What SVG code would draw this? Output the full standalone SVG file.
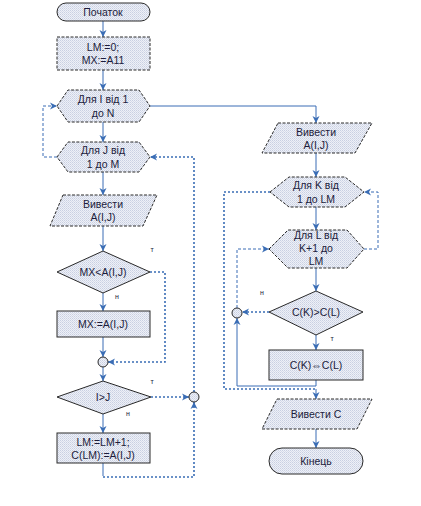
<svg xmlns="http://www.w3.org/2000/svg" width="421" height="506" viewBox="0 0 421 506">
<defs>
<pattern id="hatch" width="2" height="2" patternUnits="userSpaceOnUse">
<rect width="2" height="2" fill="#eef0f7"/>
<rect width="1" height="1" fill="#c9d0e2"/>
<rect x="1" y="1" width="1" height="1" fill="#d6dcea"/>
</pattern>
<marker id="arr" markerWidth="8" markerHeight="8" refX="7" refY="4" orient="auto" markerUnits="userSpaceOnUse">
<path d="M0,0.5 L7,4 L0,7.5 L2,4 z" fill="#3a6db5"/>
</marker>
</defs>
<style>
.n{fill:url(#hatch);stroke:#2a2a2a;stroke-width:1}
.d{stroke-dasharray:3,1.5}
.t{font-family:"Liberation Sans",Arial,sans-serif;font-size:10.5px;fill:#1c1c3c;text-anchor:middle}
.s{font-family:"Liberation Sans",Arial,sans-serif;font-size:7px;fill:#1c1c3c;text-anchor:middle}
.c{fill:none;stroke:#3a6db5;stroke-width:1}
.dot{fill:none;stroke:#3a6db5;stroke-width:1.6;stroke-dasharray:2,2}
.thin{fill:none;stroke:#3a6db5;stroke-width:1;stroke-dasharray:3,2}
</style>
<rect width="421" height="506" fill="#ffffff"/>
<g id="connectors">
<path class="c" d="M103,21 V37" marker-end="url(#arr)"/>
<path class="c" d="M103,70 V90" marker-end="url(#arr)"/>
<path class="c" d="M103,122 V142" marker-end="url(#arr)"/>
<path class="c" d="M103,172 V195" marker-end="url(#arr)"/>
<path class="c" d="M103,226 V251" marker-end="url(#arr)"/>
<path class="c" d="M103,293 V311" marker-end="url(#arr)"/>
<path class="c" d="M103,337 V357" marker-end="url(#arr)"/>
<path class="c" d="M103,367 V381" marker-end="url(#arr)"/>
<path class="c" d="M103,414 V433" marker-end="url(#arr)"/>
<path class="c" d="M150,106 H316 V123" marker-end="url(#arr)"/>
<path class="c" d="M316,153 V177" marker-end="url(#arr)"/>
<path class="c" d="M316,207 V230" marker-end="url(#arr)"/>
<path class="c" d="M316,268 V291" marker-end="url(#arr)"/>
<path class="c" d="M316,335 V350" marker-end="url(#arr)"/>
<path class="c" d="M316,380 V386 H237 V318" marker-end="url(#arr)"/>
<path class="c" d="M316,389 V399" marker-end="url(#arr)"/>
<path class="c" d="M316,429 V448" marker-end="url(#arr)"/>
<path class="thin" d="M57,157 H43 V106 H57" marker-end="url(#arr)"/>
<path class="dot" d="M150,272 H165 V362 H108" marker-end="url(#arr)"/>
<path class="dot" d="M151,397 H189" marker-end="url(#arr)"/>
<path class="c" d="M103,463 V476"/>
<path class="dot" d="M103,477 H194 V402" marker-end="url(#arr)"/>
<path class="dot" d="M194,392 V157 H150" marker-end="url(#arr)"/>
<path class="thin" d="M364,249 H378 V192 H364" marker-end="url(#arr)"/>
<path class="dot" d="M270,192 H224 V389 H316"/>
<path class="thin" d="M237,308 V249 H269" marker-end="url(#arr)"/>
<path class="dot" d="M269,312 H242" marker-end="url(#arr)"/>
</g>
<g id="start"><rect class="n" x="57" y="3" width="93" height="18" rx="9"/><text class="t" x="103" y="16">Початок</text></g>
<g id="init"><rect class="n d" x="57" y="37" width="93" height="33"/><text class="t" x="103" y="51">LM:=0;</text><text class="t" x="103" y="64">MX:=A11</text></g>
<g id="loopI"><polygon class="n d" points="57,106 68,90 139,90 150,106 139,122 68,122"/><text class="t" x="103" y="103">Для I від 1</text><text class="t" x="103" y="117">до N</text></g>
<g id="loopJ"><polygon class="n d" points="57,157 68,142 139,142 150,157 139,172 68,172"/><text class="t" x="103" y="154">Для J від</text><text class="t" x="103" y="168">1 до M</text></g>
<g id="out1"><polygon class="n d" points="63,195 157,195 143,226 50,226"/><text class="t" x="103" y="208">Вивести</text><text class="t" x="103" y="221">A(I,J)</text></g>
<g id="cond1"><polygon class="n" points="103,251 150,272 103,293 57,272"/><text class="t" x="103" y="276">MX&lt;A(I,J)</text></g>
<g id="assign1"><rect class="n" x="57" y="311" width="93" height="26"/><text class="t" x="103" y="328">MX:=A(I,J)</text></g>
<g id="join1"><circle class="n" cx="103" cy="362" r="5"/></g>
<g id="cond2"><polygon class="n" points="103,381 151,397 103,414 57,397"/><text class="t" x="103" y="401">I&gt;J</text></g>
<g id="assign2"><rect class="n" x="57" y="433" width="93" height="30"/><text class="t" x="103" y="446">LM:=LM+1;</text><text class="t" x="103" y="459">C(LM):=A(I,J)</text></g>
<g id="join2"><circle class="n" cx="194" cy="397" r="5"/></g>
<g id="out2"><polygon class="n d" points="278,123 372,123 355,153 262,153"/><text class="t" x="316" y="136">Вивести</text><text class="t" x="316" y="149">A(I,J)</text></g>
<g id="loopK"><polygon class="n d" points="270,192 289,177 345,177 364,192 345,207 289,207"/><text class="t" x="316" y="189">Для K від</text><text class="t" x="316" y="203">1 до LM</text></g>
<g id="loopL"><polygon class="n d" points="269,249 288,230 347,230 364,249 347,268 288,268"/><text class="t" x="316" y="239">Для L від</text><text class="t" x="316" y="252">K+1 до</text><text class="t" x="316" y="265">LM</text></g>
<g id="cond3"><polygon class="n" points="316,291 363,312 316,335 269,312"/><text class="t" x="316" y="316">C(K)&gt;C(L)</text></g>
<g id="swap"><rect class="n" x="269" y="350" width="94" height="30"/><text class="t" x="316" y="369">C(K)⇔C(L)</text></g>
<g id="join3"><circle class="n" cx="237" cy="313" r="5"/></g>
<g id="out3"><polygon class="n d" points="277,399 372,399 357,429 262,429"/><text class="t" x="316" y="418">Вивести C</text></g>
<g id="end"><rect class="n" x="269" y="448" width="94" height="26" rx="13"/><text class="t" x="316" y="465">Кінець</text></g>
<g id="labels">
<text class="s" x="152" y="252">т</text>
<text class="s" x="117" y="299">н</text>
<text class="s" x="152" y="384">т</text>
<text class="s" x="128" y="416">н</text>
<text class="s" x="262" y="295">н</text>
<text class="s" x="332" y="341">т</text>
</g>
</svg>
